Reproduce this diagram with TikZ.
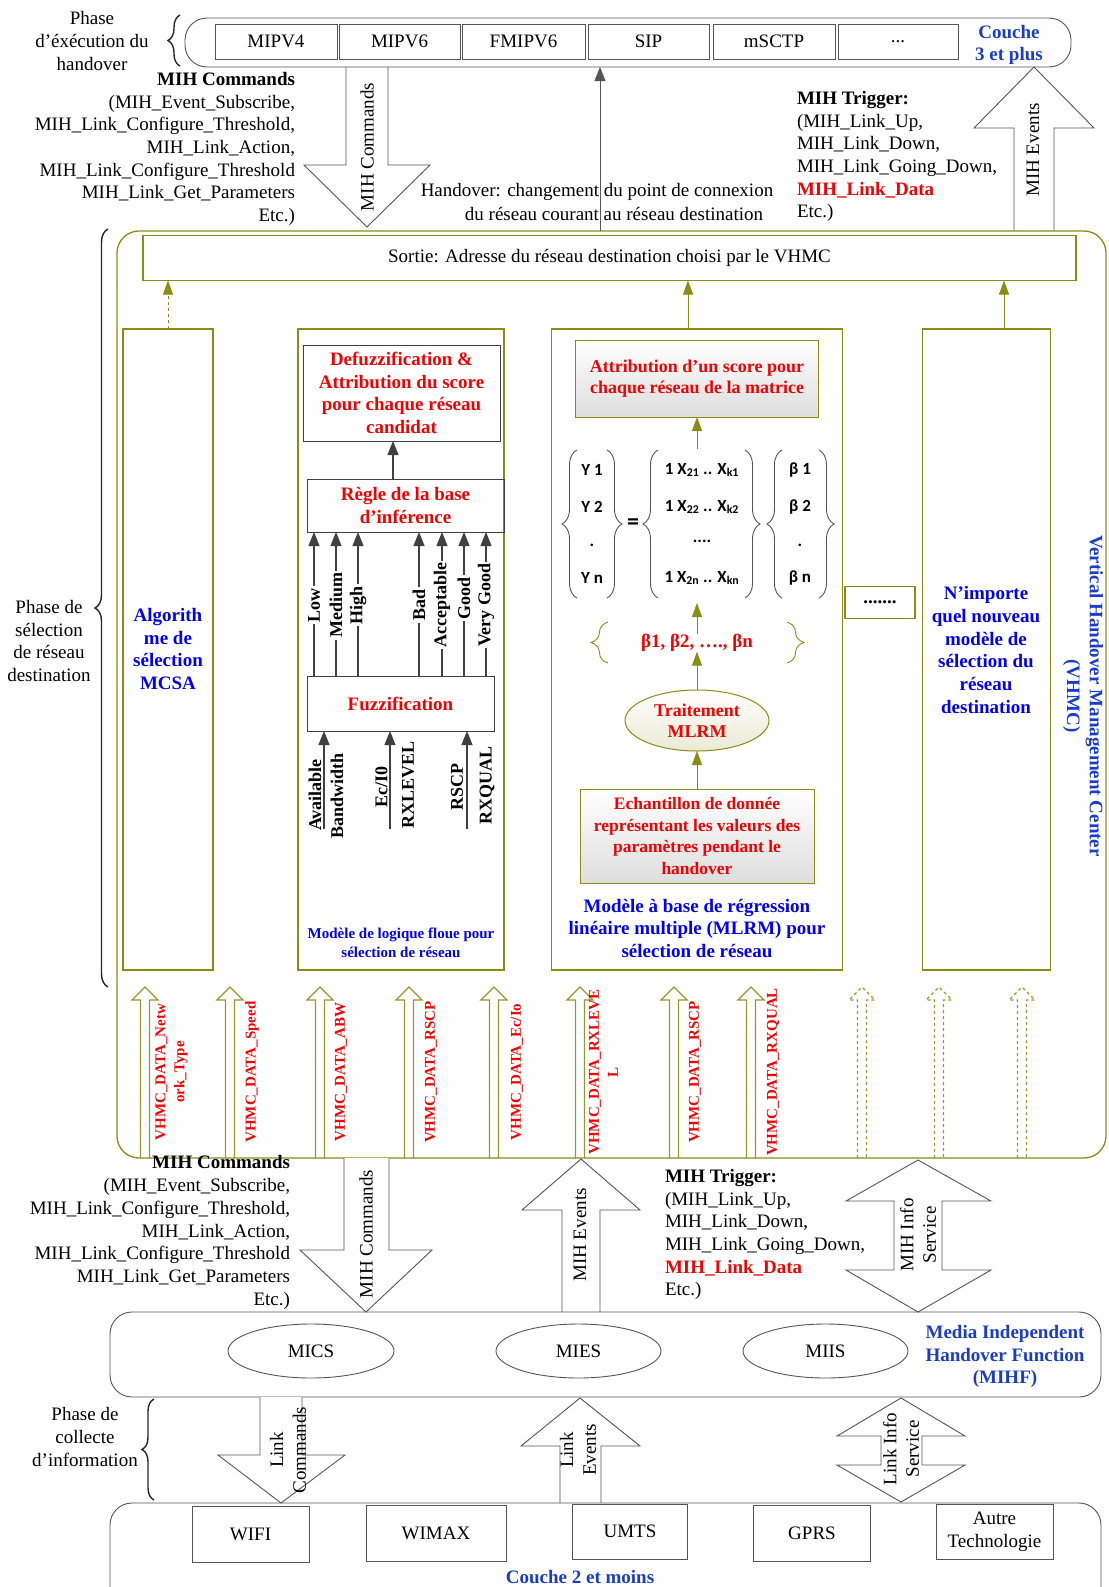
\documentclass[tikz,border=0pt]{standalone}
\usepackage{fontspec}
\setmainfont{Liberation Serif}
\newfontfamily\calib{Carlito}
\usetikzlibrary{arrows.meta,shapes.geometric,decorations.pathreplacing}
\definecolor{olv}{RGB}{140,140,20}
\definecolor{gry}{RGB}{85,85,85}
\definecolor{blu}{RGB}{0,0,255}
\definecolor{blu2}{RGB}{25,60,205}
\definecolor{rd}{RGB}{245,0,0}
\newcommand{\DataArr}[2]{\draw[dataarr,#2] (#1-4.5,1158) -- (#1-4.5,1000) -- (#1-13,1000) -- (#1,987) -- (#1+13,1000) -- (#1+4.5,1000) -- (#1+4.5,1158);}
\tikzset{
  every node/.style={inner sep=0pt, outer sep=0pt},
  f19/.style={font=\fontsize{19}{22.7}\selectfont, align=center},
  f19b/.style={font=\fontsize{19}{22.7}\selectfont\bfseries, align=center},
  f18b/.style={font=\fontsize{18}{21.5}\selectfont\bfseries, align=center},
  f17b/.style={font=\fontsize{17.5}{21.5}\selectfont\bfseries, align=center},
  f15b/.style={font=\fontsize{15}{19}\selectfont\bfseries, align=center},
  mat/.style={font=\calib\fontsize{17}{20}\selectfont\bfseries},
  gbox/.style={draw=gry, line width=0.9pt, rectangle},
  obox/.style={draw=olv, line width=1.3pt, rectangle},
  dbox/.style={draw=black!75, line width=1pt, rectangle},
  blk/.style={draw=gry, line width=0.9pt, fill=white},
  oarr/.style={draw=olv, line width=1pt, -{Triangle[length=14pt,width=10pt]}, olv},
  farr/.style={draw=black!75, line width=1.1pt, -{Triangle[length=14pt,width=11pt]}},
  harr/.style={draw=gry, line width=0.9pt, -{Triangle[length=14pt,width=11pt]}},
  dataarr/.style={draw=olv!90, line width=1.3pt},
  brc/.style={decorate, decoration={brace, amplitude=#1}, draw=gry, line width=0.9pt},
  pbrc/.style={decorate, decoration={brace, amplitude=#1}, draw=black!85, line width=1.4pt},
  obrc/.style={decorate, decoration={brace, amplitude=#1}, draw=olv, line width=0.9pt},
}
\begin{document}
\begin{tikzpicture}[x=1pt,y=-1pt]
\useasboundingbox (0,0) rectangle (1108,1587);

% ---------- top block arrows
\draw[blk] (346,67) -- (346,165) -- (304,165) -- (367,227) -- (430,165) -- (388,165) -- (388,67);
\draw[blk] (1014,231) -- (1014,128) -- (974,128) -- (1034,67) -- (1094,128) -- (1054,128) -- (1054,231);

% ---------- layer 3
\node[gbox, rounded corners=22pt, minimum width=886pt, minimum height=49pt] (L3) at (628,42.5) {};
\node[gbox, minimum width=122pt, minimum height=35pt, f19] (p1) at (276,41.5) {MIPV4};
\node[gbox, minimum width=121pt, minimum height=35pt, f19] (p2) at (399.5,41.5) {MIPV6};
\node[gbox, minimum width=123pt, minimum height=35pt, f19] (p3) at (523.5,41.5) {FMIPV6};
\node[gbox, minimum width=121pt, minimum height=35pt, f19] (p4) at (648.5,41.5) {SIP};
\node[gbox, minimum width=122pt, minimum height=35pt, f19] (p5) at (774,41.5) {mSCTP};
\node[gbox, minimum width=120pt, minimum height=35pt, f19] (p6) at (898,41.5) {...};
\node[f19b, text=blu2] (c3) at (1009,45) {Couche\\3 et plus};

\node[f19] (ph1) at (92,41) {Phase\\d’éxécution du\\handover};
\draw[pbrc=12pt] (180,66) -- (180,15);

\node[f19, align=right, anchor=east] (cmd1) at (295,149) {\textbf{MIH Commands}\\(MIH\_Event\_Subscribe,\\MIH\_Link\_Configure\_Threshold,\\MIH\_Link\_Action,\\MIH\_Link\_Configure\_Threshold\\MIH\_Link\_Get\_Parameters\\Etc.)};
\node[f19, rotate=90] (cl1) at (367,147) {MIH Commands};

\node[f19] (ho1) at (597,192) {Handover: changement du point de connexion};
\node[f19] (ho2) at (614,214) {du réseau courant au réseau destination};

\node[f19, align=left, anchor=west] (tr1) at (797,156.5) {\textbf{MIH Trigger:}\\(MIH\_Link\_Up,\\MIH\_Link\_Down,\\MIH\_Link\_Going\_Down,\\\textcolor{rd}{\textbf{MIH\_Link\_Data}}\\Etc.)};
\node[f19, rotate=90] (el1) at (1033,150) {MIH Events};

% ---------- VHMC
\node[obox, rounded corners=22pt, minimum width=989pt, minimum height=927pt] (vhmc) at (611.5,694.5) {};
\draw[harr] (vhmc.north -| 600,0) -- (L3.south -| 600,0);

\node[f19] (ph2) at (49,641) {Phase de\\sélection\\de réseau\\destination};
\draw[pbrc=13pt] (108,987) -- (108,229);

\node[obox, minimum width=933pt, minimum height=45pt, f19] (sortie) at (609.5,258) {Sortie: Adresse du réseau destination choisi par le VHMC};

\node[obox, minimum width=90pt, minimum height=641pt] (mcsa) at (168,649.5) {};
\node[obox, minimum width=206pt, minimum height=641pt] (fuzzy) at (401,649.5) {};
\node[obox, minimum width=291pt, minimum height=641pt] (mlrm) at (697,649.5) {};
\node[obox, minimum width=70pt, minimum height=32pt, f19b] (dots) at (880,602.5) {.......};
\node[obox, minimum width=128pt, minimum height=641pt] (nimp) at (986.5,649.5) {};

\draw[oarr, dashed] (mcsa.north) -- (sortie.south -| mcsa.north);
\draw[oarr] (mlrm.north -| 688,0) -- (sortie.south -| 688,0);
\draw[oarr] (nimp.north -| 1004,0) -- (sortie.south -| 1004,0);

\node[f19b, text=blu] (mcsat) at (168,649) {Algorith\\me de\\sélection\\MCSA};
\node[f19b, text=blu] (nimpt) at (986,650) {N’importe\\quel nouveau\\modèle de\\sélection du\\réseau\\destination};
\node[f19b, text=blu2, rotate=-90] (vhmcl) at (1083,696) {Vertical Handover Management Center\\(VHMC)};

% ---------- fuzzy model
\node[dbox, minimum width=197pt, minimum height=96pt, f19b, text=rd] (defuzz) at (401.5,393) {Defuzzification \&\\Attribution du score\\pour chaque réseau\\candidat};
\node[dbox, minimum width=197pt, minimum height=53pt, f19b, text=rd] (regle) at (405.5,505.5) {Règle de la base\\d’inférence};
\node[dbox, minimum width=187pt, minimum height=55pt, f19b, text=rd] (fuzz) at (400.5,703.5) {Fuzzification};
\draw[farr] (regle.north -| 393,0) -- (defuzz.south -| 393,0);
\foreach \xx/\lab/\yy in {314/Low/605, 336/Medium/605, 358/High/605, 419/Bad/605, 442/Acceptable/605, 464/Good/598, 486/Very Good/605} {
  \draw[farr] (fuzz.north -| \xx,0) -- (regle.south -| \xx,0);
  \node[f18b, rotate=90, fill=white, inner xsep=2pt] (lab\xx) at (\xx,\yy) {\lab};
}
\coordinate (i1) at (324,829);
\coordinate (i2) at (390,829);
\coordinate (i3) at (467,829);
\draw[farr] (i1) -- (fuzz.south -| i1);
\draw[farr] (i2) -- (fuzz.south -| i2);
\draw[farr] (i3) -- (fuzz.south -| i3);
\node[f18b, rotate=90] (inA) at (315,795) {Available};
\node[f18b, rotate=90] (inB) at (337,796) {Bandwidth};
\node[f18b, rotate=90] (inE) at (381.5,787) {Ec/I0};
\node[f18b, rotate=90] (inR) at (408,785) {RXLEVEL};
\node[f18b, rotate=90] (inS) at (457,787) {RSCP};
\node[f18b, rotate=90] (inQ) at (487,785) {RXQUAL};
\node[f15b, text=blu] (fcap) at (401,943) {Modèle de logique floue pour\\sélection de réseau};

% ---------- MLRM model
\node[obox, line width=1pt, minimum width=243pt, minimum height=77pt, top color=white, bottom color=black!13, f18b, text=rd] (attrib) at (697,378.5) {Attribution d’un score pour\\chaque réseau de la matrice};
\node[minimum width=280pt, minimum height=154pt] (mat) at (697,526) {};
\node[mat] (y1) at (592,470) {Y 1};
\node[mat] (y2) at (592,507) {Y 2};
\node[mat] (y3) at (592,545) {.};
\node[mat] (y4) at (592,578) {Y n};
\node[mat, font=\calib\fontsize{24}{26}\selectfont\bfseries] (eq) at (633,524) {=};
\node[mat] (x1) at (702,470) {1 X\textsubscript{21} .. X\textsubscript{k1}};
\node[mat] (x2) at (702,507) {1 X\textsubscript{22} .. X\textsubscript{k2}};
\node[mat] (x3) at (702,541) {....};
\node[mat] (x4) at (702,578) {1 X\textsubscript{2n} .. X\textsubscript{kn}};
\node[mat] (b1) at (800,470) {β 1};
\node[mat] (b2) at (800,507) {β 2};
\node[mat] (b3) at (800,545) {.};
\node[mat] (b4) at (800,578) {β n};
\draw[brc=15pt] (577,598) -- (577,450);
\draw[brc=15pt] (607,450) -- (607,598);
\draw[brc=15pt] (658,598) -- (658,450);
\draw[brc=15pt] (745,450) -- (745,598);
\draw[brc=15pt] (782,598) -- (782,450);
\draw[brc=15pt] (819,450) -- (819,598);
\node[f19b, text=rd] (betas) at (697,643) {β1, β2, …., βn};
\draw[obrc=17pt] (608,663) -- (608,622);
\draw[obrc=17pt] (787,622) -- (787,663);
\node[ellipse, draw=olv, line width=1pt, minimum width=144pt, minimum height=61pt, top color=white, bottom color=olv!18, f18b, text=rd] (trait) at (697,720.5) {Traitement\\MLRM};
\node[obox, line width=1pt, minimum width=234pt, minimum height=94pt, top color=white, bottom color=black!13, f17b, text=rd] (echant) at (697,836) {Echantillon de donnée\\représentant les valeurs des\\paramètres pendant le\\handover};
\draw[oarr] (mat.north) -- (attrib.south);
\draw[oarr] (betas.north) -- (mat.south);
\draw[oarr] (trait.north) -- (betas.south);
\draw[oarr] (echant.north) -- (trait.south);
\node[f19b, text=blu] (mcap) at (697,928.5) {Modèle à base de régression\\linéaire multiple (MLRM) pour\\sélection de réseau};

% ---------- VHMC data arrows
\DataArr{145}{}
\DataArr{230}{}
\DataArr{320}{}
\DataArr{409}{}
\DataArr{494}{}
\DataArr{580}{}
\DataArr{674}{}
\DataArr{751}{}
\DataArr{862}{dashed}
\DataArr{939}{dashed}
\DataArr{1022}{dashed}
\node[f15b, text=rd, rotate=90] (d1) at (171.5,1072) {VHMC\_DATA\_Netw\\ork\_Type};
\node[f15b, text=rd, rotate=90] (d2) at (252,1072) {VHMC\_DATA\_Speed};
\node[f15b, text=rd, rotate=90] (d3) at (341,1072) {VHMC\_DATA\_ABW};
\node[f15b, text=rd, rotate=90] (d4) at (431,1072) {VHMC\_DATA\_RSCP};
\node[f15b, text=rd, rotate=90] (d5) at (517,1072) {VHMC\_DATA\_Ec/Io};
\node[f15b, text=rd, rotate=90] (d6) at (603.5,1072) {VHMC\_DATA\_RXLEVE\\L};
\node[f15b, text=rd, rotate=90] (d7) at (695,1072) {VHMC\_DATA\_RSCP};
\node[f15b, text=rd, rotate=90] (d8) at (773,1072) {VHMC\_DATA\_RXQUAL};

% ---------- between VHMC and MIHF
\draw[blk] (344,1158) -- (344,1250) -- (300,1250) -- (366,1312) -- (432,1250) -- (389,1250) -- (389,1158);
\node[f19, rotate=90] (cl2) at (366,1234) {MIH Commands};
\node[f19, align=right, anchor=east] (cmd2) at (290,1232.5) {\textbf{MIH Commands}\\(MIH\_Event\_Subscribe,\\MIH\_Link\_Configure\_Threshold,\\MIH\_Link\_Action,\\MIH\_Link\_Configure\_Threshold\\MIH\_Link\_Get\_Parameters\\Etc.)};
\draw[blk] (562,1312) -- (562,1210) -- (522,1210) -- (581,1159) -- (640,1210) -- (600,1210) -- (600,1312);
\node[f19, rotate=90] (el2) at (580,1235) {MIH Events};
\node[f19, align=left, anchor=west] (tr2) at (665,1234.5) {\textbf{MIH Trigger:}\\(MIH\_Link\_Up,\\MIH\_Link\_Down,\\MIH\_Link\_Going\_Down,\\\textcolor{rd}{\textbf{MIH\_Link\_Data}}\\Etc.)};
\draw[blk] (918,1160) -- (991,1201) -- (942,1201) -- (942,1270) -- (991,1270) -- (918,1312) -- (846,1270) -- (894,1270) -- (894,1201) -- (846,1201) -- cycle;
\node[f19, rotate=90] (il) at (918,1235) {MIH Info\\Service};

% ---------- MIHF
\node[gbox, rounded corners=22pt, minimum width=991pt, minimum height=85pt] (mihf) at (605.5,1354.5) {};
\node[ellipse, draw=gry, line width=0.9pt, minimum width=166pt, minimum height=54pt, f19] (mics) at (311,1351) {MICS};
\node[ellipse, draw=gry, line width=0.9pt, minimum width=165pt, minimum height=54pt, f19] (mies) at (578.5,1351) {MIES};
\node[ellipse, draw=gry, line width=0.9pt, minimum width=165pt, minimum height=54pt, f19] (miis) at (825.5,1351) {MIIS};
\node[f19b, text=blu2] (mihft) at (1005,1356.5) {Media Independent\\Handover Function\\(MIHF)};

% ---------- collecte
\node[f19] (ph3) at (85,1437) {Phase de\\collecte\\d’information};
\draw[pbrc=12pt] (154,1500) -- (154,1399);
\draw[blk] (260,1397) -- (260,1455) -- (218,1455) -- (281,1503) -- (345,1455) -- (302,1455) -- (302,1397);
\node[f19, rotate=90] (lc) at (288,1450) {Link\\Commands};
\draw[blk] (560,1503) -- (560,1446) -- (521,1446) -- (580,1398) -- (640,1446) -- (601,1446) -- (601,1503);
\node[f19, rotate=90] (le) at (578,1450) {Link\\Events};
\draw[blk] (901,1398) -- (965,1436) -- (922,1436) -- (922,1465) -- (965,1465) -- (901,1502) -- (837,1465) -- (881,1465) -- (881,1436) -- (837,1436) -- cycle;
\node[f19, rotate=90] (li) at (901,1449) {Link Info\\Service};

% ---------- layer 2
\draw[draw=gry, line width=0.9pt, rounded corners=22pt] (110,1640) -- (110,1503) -- (1101,1503) -- (1101,1640);
\node[gbox, minimum width=117pt, minimum height=56pt, f19] (wifi) at (250.5,1534) {WIFI};
\node[gbox, minimum width=140pt, minimum height=56pt, f19] (wimax) at (436,1533) {WIMAX};
\node[gbox, minimum width=115pt, minimum height=55pt, f19] (umts) at (630,1531.5) {UMTS};
\node[gbox, minimum width=117pt, minimum height=56pt, f19] (gprs) at (812,1533) {GPRS};
\node[gbox, minimum width=117pt, minimum height=55pt, f19] (autre) at (994.5,1531.5) {Autre\\Technologie};
\node[f19b, text=blu2] (c2) at (580,1577) {Couche 2 et moins};
\end{tikzpicture}
\end{document}
